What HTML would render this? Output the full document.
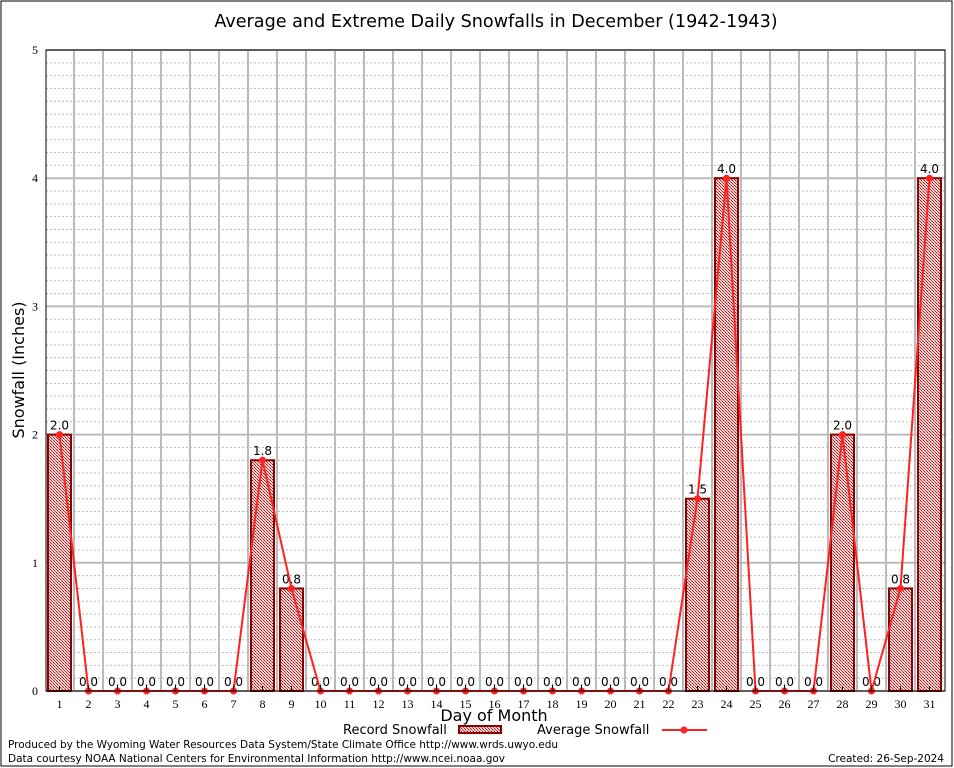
<!DOCTYPE html>
<html><head><meta charset="utf-8"><style>
body{margin:0;background:#fff}
svg{display:block;font-family:"DejaVu Sans","Liberation Sans",sans-serif}
</style></head><body>
<svg id="chart" width="954" height="768" viewBox="0 0 954 768" xmlns="http://www.w3.org/2000/svg">
<defs>
<pattern id="hatch" width="3" height="3" patternUnits="userSpaceOnUse">
<rect width="3" height="3" fill="#f2d4d4"/>
<rect width="1" height="1" fill="#a01818"/><rect x="1" y="1" width="1" height="1" fill="#c05050"/><rect x="2" y="2" width="1" height="1" fill="#a01818"/>
</pattern>
</defs>
<rect x="1" y="1" width="951" height="765" fill="#fff" stroke="#000"/>
<text x="496" y="27" font-size="17.6" text-anchor="middle">Average and Extreme Daily Snowfalls in December (1942-1943)</text>
<g id="grid"></g>
<g id="bars"></g>
<g id="line"></g>
<rect x="46" y="50" width="899" height="641" fill="none" stroke="#000"/>
<g id="axes" font-family="Liberation Serif, serif" font-size="12"></g>
<text x="24" y="370" font-size="16" text-anchor="middle" transform="rotate(-90 24 370)">Snowfall (Inches)</text>
<text x="494" y="721" font-size="16" text-anchor="middle">Day of Month</text>
<g>
<text x="343" y="734" font-size="13">Record Snowfall</text>
<rect x="459" y="726" width="42" height="7" fill="url(#hatch)" stroke="#8b0000" stroke-width="2"/>
<text x="537" y="734" font-size="13">Average Snowfall</text>
<line x1="662" y1="730" x2="707" y2="730" stroke="#ff2020" stroke-width="2"/>
<circle cx="684" cy="730" r="3.5" fill="#ff2020"/>
</g>
<text x="8" y="748" font-size="10.5" textLength="550">Produced by the Wyoming Water Resources Data System/State Climate Office http://www.wrds.uwyo.edu</text>
<text x="8" y="762" font-size="10.5" textLength="497">Data courtesy NOAA National Centers for Environmental Information http://www.ncei.noaa.gov</text>
<text x="944" y="762" font-size="10.5" text-anchor="end">Created:  26-Sep-2024</text>
</svg>
<script>
const days=[1,2,3,4,5,6,7,8,9,10,11,12,13,14,15,16,17,18,19,20,21,22,23,24,25,26,27,28,29,30,31];
const recordValues=[2.0,0,0,0,0,0,0,1.8,0.8,0,0,0,0,0,0,0,0,0,0,0,0,0,1.5,4.0,0,0,0,2.0,0,0.8,4.0];
const averageValues=[2.0,0,0,0,0,0,0,1.8,0.8,0,0,0,0,0,0,0,0,0,0,0,0,0,1.5,4.0,0,0,0,2.0,0,0.8,4.0];
const yTicks=[0,1,2,3,4,5];
const NS="http://www.w3.org/2000/svg";
const X=d=>59.5+(d-1)*29, Y=v=>691-v*128.2;
function mk(t,a,p){const e=document.createElementNS(NS,t);for(const k in a)e.setAttribute(k,a[k]);p.appendChild(e);return e;}
const grid=document.getElementById('grid'),bars=document.getElementById('bars'),line=document.getElementById('line'),axes=document.getElementById('axes');
for(let i=1;i<50;i++){if(i%10===0)continue;const l=mk('line',{x1:46,x2:945,y1:Y(i/10),y2:Y(i/10),stroke:'#bbb','stroke-dasharray':'2,2'},grid);
}
yTicks.forEach(v=>{const l=mk('line',{x1:46,x2:945,y1:Y(v),y2:Y(v),stroke:'#bbb','stroke-width':2},grid);

const t=mk('text',{x:38,y:Y(v)+4,'text-anchor':'end'},axes);t.textContent=v;
});
days.slice(0,-1).forEach(d=>{const l=mk('line',{x1:X(d)+14.5,x2:X(d)+14.5,y1:50,y2:691,stroke:'#bbb','stroke-width':2},grid);
});
days.forEach((d,i)=>{const v=recordValues[i];
if(v>0){const r=mk('rect',{x:X(d)-11.5,y:Y(v),width:23,height:691-Y(v),fill:'url(#hatch)',stroke:'#8b0000','stroke-width':2},bars);
}
const t=mk('text',{x:X(d),y:Y(v)-5,'text-anchor':'middle','font-size':12},bars);t.textContent=v.toFixed(1);

const tk=mk('line',{x1:X(d),x2:X(d),y1:691,y2:686,stroke:'#000'},axes);

const xl=mk('text',{x:X(d),y:708,'text-anchor':'middle'},axes);xl.textContent=d;
});
const pl=mk('polyline',{points:days.map((d,i)=>X(d)+','+Y(averageValues[i])).join(' '),fill:'none',stroke:'#ff2020','stroke-width':2},line);

days.forEach((d,i)=>{const c=mk('circle',{cx:X(d),cy:Y(averageValues[i]),r:3.5,fill:'#ff2020'},line);
});
</script>
</body></html>
